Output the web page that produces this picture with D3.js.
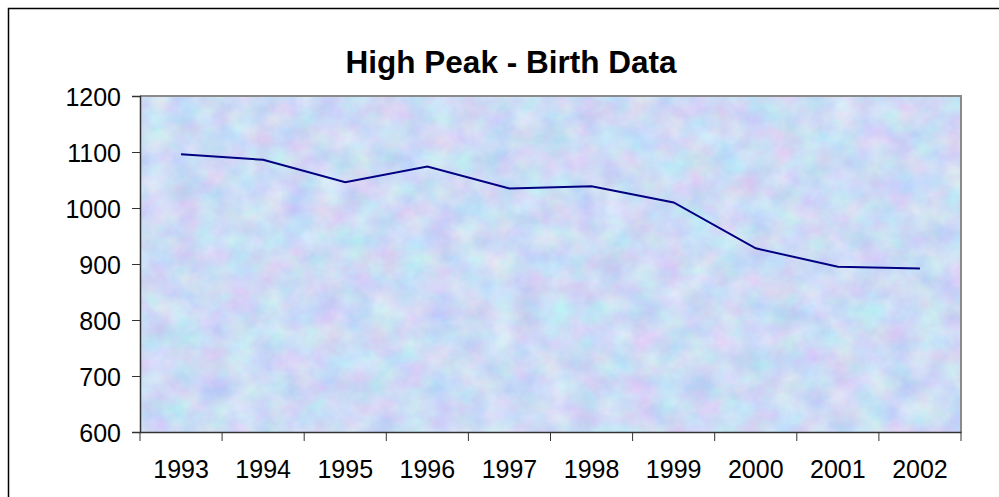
<!DOCTYPE html>
<html>
<head>
<meta charset="utf-8">
<script src="https://cdn.jsdelivr.net/npm/d3@7"></script>
<style>
  body { margin: 0; background: #fff; }
  text { font-family: "Liberation Sans", Arial, sans-serif; fill: #000; }
</style>
</head>
<body>
<div id="chart"></div>
<script>
// data
const years = ["1993","1994","1995","1996","1997","1998","1999","2000","2001","2002"];
const births = [1096, 1086, 1046, 1074, 1035, 1039, 1010, 928, 895, 892];
const yTicks = [600, 700, 800, 900, 1000, 1100, 1200];
const chartTitle = "High Peak - Birth Data";

const W = 999, H = 497;
const plot = {left: 140, right: 961, top: 96, bottom: 432};

const svg = d3.select("#chart")
  .append("svg")
  .attr("width", W)
  .attr("height", H);

// mottled background texture for the plot area
const defs = svg.append("defs");
const filt = defs.append("filter")
  .attr("id", "mottle")
  .attr("color-interpolation-filters", "sRGB")
  .attr("x", 0).attr("y", 0).attr("width", 1).attr("height", 1);
filt.append("feTurbulence")
  .attr("type", "fractalNoise")
  .attr("baseFrequency", "0.035 0.04")
  .attr("numOctaves", 4)
  .attr("seed", 7);
filt.append("feColorMatrix")
  .attr("type", "matrix")
  .attr("values",
    "0.24 0 0 0 0.68 " +
    "0 0.20 0 0 0.76 " +
    "0 0 0.08 0 0.92 " +
    "0 0 0 0 1");

// outer chart border
svg.append("rect")
  .attr("x", 8.5).attr("y", 8.5)
  .attr("width", W).attr("height", H)
  .attr("fill", "none")
  .attr("stroke", "#000")
  .attr("stroke-width", 1.5);

const x = d3.scaleBand()
  .domain(years)
  .range([plot.left, plot.right])
  .padding(0);

const y = d3.scaleLinear()
  .domain([600, 1200])
  .range([plot.bottom, plot.top]);

// plot area
svg.append("rect")
  .attr("x", plot.left).attr("y", plot.top)
  .attr("width", plot.right - plot.left)
  .attr("height", plot.bottom - plot.top)
  .attr("filter", "url(#mottle)");

svg.append("path")
  .attr("d", `M${plot.left},${plot.top}H${plot.right}V${plot.bottom}`)
  .attr("fill", "none")
  .attr("stroke", "#8a8a8a")
  .attr("stroke-width", 2);

// y axis
const yAxis = svg.append("g")
  .attr("transform", `translate(${plot.left},0)`)
  .call(d3.axisLeft(y).tickValues(yTicks).tickSize(8).tickPadding(11).tickFormat(d3.format("d")));
yAxis.select(".domain").attr("stroke", "#333").attr("stroke-width", 1.5);
yAxis.selectAll(".tick line").attr("stroke", "#333");
yAxis.selectAll("text")
  .attr("font-size", 25)
  .attr("dy", "0.36em");

// x axis: labels centred in the categories, ticks on the boundaries
const xAxis = svg.append("g")
  .attr("transform", `translate(0,${plot.bottom})`)
  .call(d3.axisBottom(x).tickSize(0).tickPadding(28));
xAxis.select(".domain").attr("stroke", "#333").attr("stroke-width", 1.5);
xAxis.selectAll("text").attr("font-size", 25);

const bounds = years.map(d => x(d)).concat([x(years[years.length - 1]) + x.bandwidth()]);
svg.append("g")
  .selectAll("line")
  .data(bounds)
  .join("line")
  .attr("x1", d => d).attr("x2", d => d)
  .attr("y1", plot.bottom).attr("y2", plot.bottom + 9)
  .attr("stroke", "#333");

// the series
const line = d3.line()
  .x((d, i) => x(years[i]) + x.bandwidth() / 2)
  .y(d => y(d));

svg.append("path")
  .datum(births)
  .attr("d", line)
  .attr("fill", "none")
  .attr("stroke", "#000080")
  .attr("stroke-width", 2);

// title
svg.append("text")
  .attr("x", 511)
  .attr("y", 73)
  .attr("text-anchor", "middle")
  .attr("font-size", 31.5)
  .attr("font-weight", "bold")
  .text(chartTitle);
</script>
</body>
</html>
